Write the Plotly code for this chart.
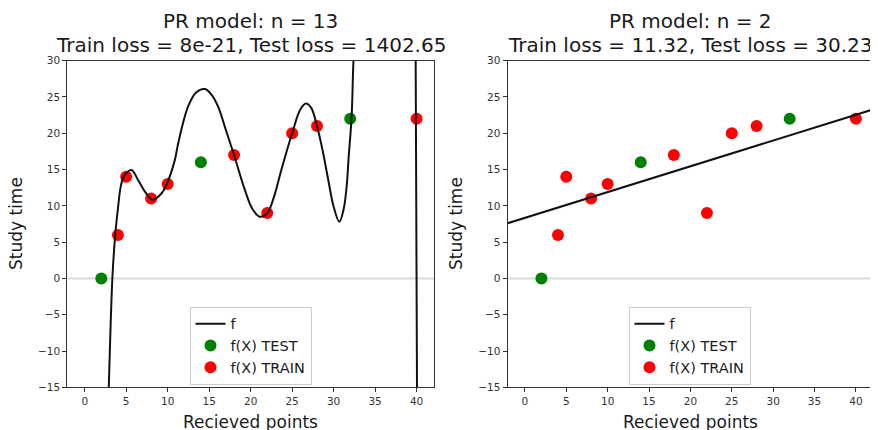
import plotly.graph_objects as go

# ---- data ----
train_x = [4, 5, 8, 10, 18, 22, 25, 28, 40]
train_y = [6, 14, 11, 13, 17, 9, 20, 21, 22]
test_x = [2, 14, 32]
test_y = [0, 16, 22]

# degree-13 model curve
f13_x = [2.3, 2.6, 2.9, 3.34, 3.7, 4.02, 4.34, 4.74, 5.63, 6.43, 7.3, 8.2, 9.25, 9.85,
         10.86, 11.26, 12.46, 13.4, 14.5, 15.3, 16.08, 17.0, 18.0, 19.3, 20.2, 21.1, 22.0,
         22.8, 23.7, 25.0, 26.0, 26.66, 27.3, 28.0, 28.7, 29.35, 30.0, 30.68, 31.2,
         31.57, 31.8, 32.17, 32.4, 33.0, 34.0, 35.5, 37.0, 38.5, 39.4, 39.8, 39.88,
         39.96, 40.05, 40.1]
f13_y = [-38, -26, -14.9, 0.2, 6.3, 9.8, 12.65, 14.1, 14.95, 13.57, 11.9, 10.85, 11.7, 12.9,
         16.3, 18.6, 23.7, 25.6, 26.1, 25.3, 23.66, 20.5, 17.0, 12.2, 9.6, 8.5, 9.0,
         11.2, 14.95, 20.0, 23.3, 24.1, 23.5, 21.0, 17.5, 13.6, 9.9, 7.8, 9.5,
         12.65, 16.5, 22.3, 30.2, 42, 72, 110, 125, 110, 80, 56, 33,
         10.4, -15, -30]

# degree-2 model (straight line)
f2_x = [-2.1, 42.1]
f2_y = [7.6, 23.3]

titles_n = ["PR model: n = 13", "PR model: n = 2"]
titles_loss = ["Train loss = 8e-21, Test loss = 1402.65",
               "Train loss = 11.32, Test loss = 30.23"]
x_title = "Recieved points"
y_title = "Study time"

x_ticks = [0, 5, 10, 15, 20, 25, 30, 35, 40]
y_ticks = [-15, -10, -5, 0, 5, 10, 15, 20, 25, 30]

FONT = "DejaVu Sans, Liberation Sans, sans-serif"
OFF = 8  # page body margin
W, H = 878 - OFF, 430 - OFF


def px_x(p):
    return (p - OFF) / W


def px_y(p):
    return 1 - (p - OFF) / H


left_dom = [px_x(67.3), px_x(434.0)]
right_dom = [px_x(507.5), px_x(873.3)]
y_dom = [px_y(387.3), px_y(60.7)]

fig = go.Figure()

panels = [
    ("x", "y", "legend", f13_x, f13_y),
    ("x2", "y2", "legend2", f2_x, f2_y),
]
for xa, ya, lg, cx, cy in panels:
    fig.add_trace(go.Scatter(x=test_x, y=test_y, mode="markers", name="f(X) TEST",
                             marker=dict(color="green", size=12), xaxis=xa, yaxis=ya,
                             legend=lg, legendrank=2, cliponaxis=True))
    fig.add_trace(go.Scatter(x=train_x, y=train_y, mode="markers", name="f(X) TRAIN",
                             marker=dict(color="red", size=12), xaxis=xa, yaxis=ya,
                             legend=lg, legendrank=3, cliponaxis=True))
    fig.add_trace(go.Scatter(x=cx, y=cy, mode="lines", name="f",
                             line=dict(color="#111111", width=2, shape="spline", smoothing=1.0),
                             xaxis=xa, yaxis=ya, legend=lg, legendrank=1))
    fig.add_shape(type="line", xref=f"{xa} domain", yref=ya, x0=0, x1=1, y0=0, y1=0,
                  line=dict(color="#d9d9d9", width=2), layer="below")

axis_common = dict(
    showline=True, linecolor="#333333", linewidth=1, mirror=True,
    ticks="outside", ticklen=4, tickcolor="#333333", tickwidth=1,
    tickfont=dict(family=FONT, size=10.5, color="#333333"),
    showgrid=False, zeroline=False, automargin=False,
)

for i, (xk, yk, dom) in enumerate([("xaxis", "yaxis", left_dom), ("xaxis2", "yaxis2", right_dom)]):
    xa = dict(axis_common, domain=dom, range=[-2.1, 42.1], tickvals=x_ticks)
    ya = dict(axis_common, domain=y_dom, range=[-15, 30], tickvals=y_ticks)
    if i == 1:
        xa["anchor"] = "y2"
        ya["anchor"] = "x2"
    fig.layout[xk] = xa
    fig.layout[yk] = ya

annotations = []
title_font = dict(family=FONT, size=20, color="#1a1a1a")
label_font = dict(family=FONT, size=17, color="#1a1a1a")
for dom, t1, t2, ylab_x in [(left_dom, titles_n[0], titles_loss[0], 16),
                            (right_dom, titles_n[1], titles_loss[1], 456)]:
    cx = (dom[0] + dom[1]) / 2
    annotations.append(dict(text=t1, x=cx, y=px_y(21), xref="paper", yref="paper",
                            xanchor="center", yanchor="middle", showarrow=False, font=title_font))
    annotations.append(dict(text=t2, x=cx, y=px_y(45.3), xref="paper", yref="paper",
                            xanchor="center", yanchor="middle", showarrow=False, font=title_font))
    annotations.append(dict(text=x_title, x=cx, y=px_y(421.5), xref="paper", yref="paper",
                            xanchor="center", yanchor="middle", showarrow=False, font=label_font))
    annotations.append(dict(text=y_title, x=px_x(ylab_x), y=(y_dom[0] + y_dom[1]) / 2,
                            xref="paper", yref="paper", textangle=-90,
                            xanchor="center", yanchor="middle", showarrow=False, font=label_font))

legend_common = dict(
    yanchor="top", xanchor="center", y=px_y(306.7),
    bgcolor="rgba(255,255,255,0.8)", bordercolor="#cccccc", borderwidth=1,
    font=dict(family=FONT, size=14.5, color="#1a1a1a"),
    tracegroupgap=0, itemwidth=30,
)

fig.update_layout(
    width=W, height=H,
    margin=dict(l=0, r=0, t=0, b=0),
    paper_bgcolor="white", plot_bgcolor="white",
    annotations=annotations,
    legend=dict(legend_common, x=px_x(250.5)),
    legend2=dict(legend_common, x=px_x(689.5)),
    showlegend=True,
)

fig.write_html("out.html")
